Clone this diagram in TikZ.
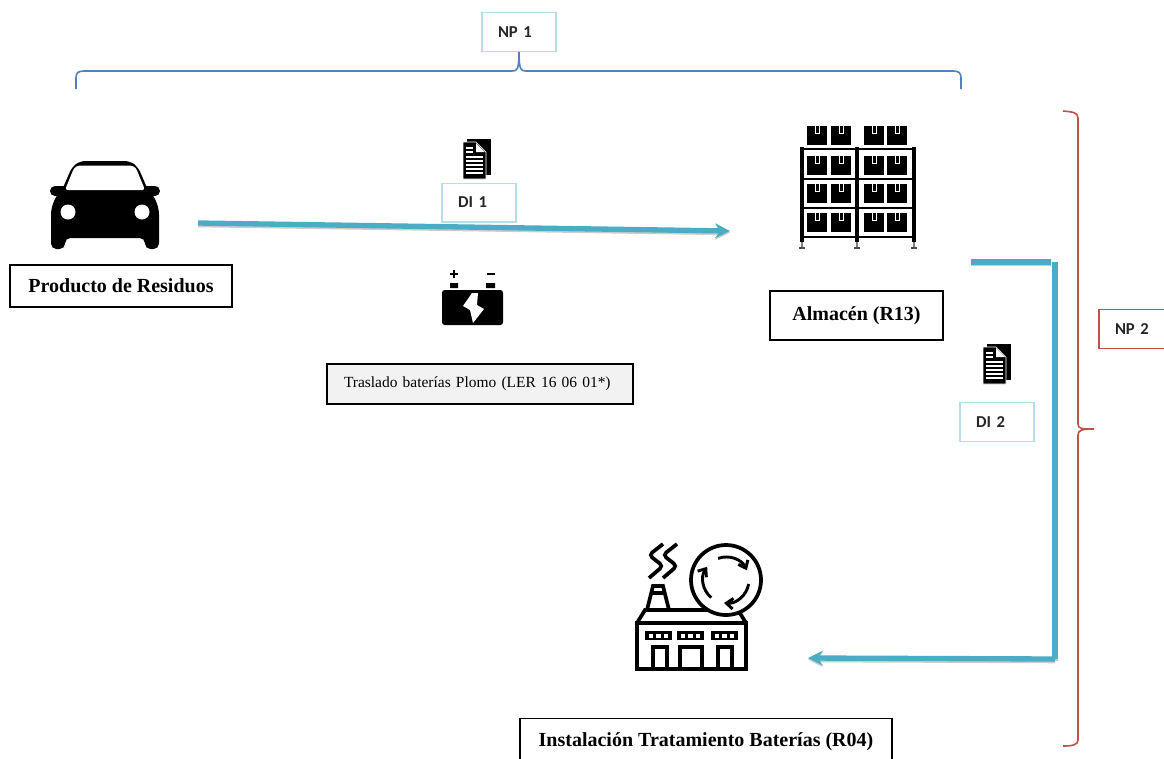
\documentclass[tikz,border=0pt]{standalone}
\usepackage{fontspec}
\setmainfont{Liberation Serif}
\newfontfamily\boxfont{Carlito}
\usetikzlibrary{arrows.meta,calc}
\definecolor{flowteal}{HTML}{4BACC6}
\definecolor{lightteal}{HTML}{B7DEE8}
\definecolor{braceblue}{HTML}{4F81BD}
\definecolor{bracered}{HTML}{C0504D}
\definecolor{boxgray}{HTML}{F2F2F2}
\tikzset{
  titlebox/.style={draw=black,line width=0.8pt,fill=white,text=black,font=\bfseries\fontsize{15}{18}\selectfont,inner sep=0pt},
  tealbox/.style={draw=lightteal,line width=1pt,fill=white,font=\boxfont\bfseries\fontsize{12.5}{14}\selectfont,text=black!85,text width=31.5pt,inner xsep=12pt,inner ysep=0pt,minimum height=29pt,align=left},
  redbox/.style={tealbox,draw=bracered,text width=33pt},
  flowline/.style={draw=flowteal,line width=4pt,preaction={draw=black!20,line width=4pt,transform canvas={yshift=-1.2pt}}},
  flowtip/.style={-{Stealth[length=11pt,width=11pt]}},
  doc/.pic={
    \fill[black] (-10,-20) rectangle (14,16);
    \fill[black,draw=white,line width=0.5pt] (-14,-17) -- (-1,-17) -- (9,-7) -- (9,20) -- (-14,20) -- cycle;
    \fill[white] (-1,-16) -- (8,-7) -- (-1,-7) -- cycle;
    \foreach\y/\xend in {-11/-4,-7/-4,-2/6,2/6,6/6,10/6,14/6}
      \draw[white,line width=1pt] (-11,\y) -- (\xend,\y);
  },
  car/.pic={
    \fill[black,rounded corners=4] (-54,44) -- (-54,4) -- (-49,-9) -- (-43,-15) -- (-33,-38) -- (-25,-44) -- (25,-44) -- (33,-38) -- (43,-15) -- (49,-9) -- (54,4) -- (54,44) -- (40,44) -- (40,33) -- (-40,33) -- (-40,44) -- cycle;
    \draw[black,line width=7.5pt,line cap=round] (-50,-14) -- (-42,-14) (42,-14) -- (50,-14);
    \fill[white,rounded corners=2] (-40,-15) -- (-31,-37) -- (-27,-39.5) -- (27,-39.5) -- (31,-37) -- (40,-15) -- cycle;
    \fill[white] (-37,7) circle (7.5) (37,7) circle (7.5);
  },
  shelf/.pic={
    \foreach\x in {-51,-27,6,29}
      \foreach\y in {-60,-30,-2,27} {
        \fill[black] (\x,\y) rectangle (\x+20,\y+19);
        \draw[white,line width=0.7pt] (\x+8,\y) -- (\x+8,\y+7) -- (\x+12,\y+7) -- (\x+12,\y);
      }
    \foreach\x in {-56,-1,56} {
      \draw[black,line width=2.4pt] (\x,-39) -- (\x,56);
      \draw[gray,line width=1.5pt] (\x,56) -- (\x,62);
      \draw[black!70,line width=1pt] (\x-3,62) -- (\x+3,62);
    }
    \foreach\y in {-37,-7,22,51}
      \draw[black,line width=2pt] (-56,\y) -- (56,\y);
  },
  battery/.pic={
    \fill[black,rounded corners=2] (-30,-10) rectangle (31,25);
    \fill[black] (-22,-17) rectangle (-14,-12) (14,-17) rectangle (23,-12);
    \draw[black,line width=1.7pt] (-22,-26) -- (-14,-26) (-18,-30) -- (-18,-22) (15,-26) -- (23,-26);
    \fill[white] (0,-7) -- (-9,6) -- (-2,10) -- (1,23) -- (12,9) -- (5,5) -- (6,-7) -- cycle;
  },
  factory/.pic={
    \draw[black,line width=2.8pt] (-53,13) rectangle (56,59);
    \draw[black,line width=2.8pt] (-53,13) -- (-45,0) -- (48,0) -- (56,13);
    \draw[black,line width=2.8pt] (-43,0) -- (-37,-24) -- (-27,-24) -- (-21,0) (-40,-17) -- (-24,-17);
    \foreach\x in {0,14}
      \draw[black,line width=2.8pt,rounded corners=3] (-27+\x,-66) -- (-41+\x,-55) -- (-27+\x,-44) -- (-41+\x,-32);
    \foreach\x in {-45,-13,21} {
      \fill[black] (\x,21) rectangle (\x+27,30);
      \foreach\k in {0,1,2}
        \fill[white] (\x+3.5+\k*7.5,23.5) rectangle (\x+8+\k*7.5,27.5);
    }
    \foreach\x/\w in {-37/14,-10/22,28/14}
      \draw[black,line width=2.8pt] (\x,59) -- (\x,37) -- (\x+\w,37) -- (\x+\w,59);
    \draw[black,line width=2.8pt,fill=white] (36,-30) circle (35);
    \foreach\a in {-110,10,130}
      \draw[black,line width=2.2pt,-{Straight Barb[length=5pt,width=8pt]}] ($(36,-30)+(\a:23)$) arc (\a:\a+85:23);
  }
}
\begin{document}
\begin{tikzpicture}[x=0.75pt,y=-0.75pt]
\path[use as bounding box,clip] (0,0) rectangle (1164,758);

\pic at (105,205) {car};
\pic at (858,186) {shelf};
\pic at (690,610) {factory};
\pic at (472,300) {battery};
\pic at (477,159) {doc};
\pic at (997,364) {doc};

\node[titlebox,minimum width=166.5pt,minimum height=31.5pt] (producto) at (121,286) {Producto de Residuos};
\node[titlebox,minimum width=129.75pt,minimum height=36.75pt] (almacen) at (856.5,315.5) {Almacén (R13)};
\node[titlebox,minimum width=279pt,minimum height=39pt,anchor=north] (instalacion) at (706,718) {\raisebox{7pt}{Instalación Tratamiento Baterías (R04)}};
\node[draw=black,line width=0.8pt,fill=boxgray,text width=204pt,inner xsep=12.75pt,inner ysep=0pt,minimum height=30pt,align=left,font=\fontsize{11.6}{14}\selectfont] (traslado) at (480,384) {Traslado baterías Plomo (LER 16 06 01*)};

\node[tealbox] (np1) at (519,32) {NP 1};
\node[tealbox] (di1) at (479,202.5) {DI 1};
\node[tealbox] (di2) at (997,422) {DI 2};
\node[redbox] (np2) at (1137,329) {NP 2};

\coordinate (flowa) at (198,223);
\coordinate (flowb) at (730,231);
\coordinate (flowc) at (971,262);
\coordinate (flowd) at (1051,262);
\coordinate (flowe) at (1055,262);
\coordinate (flowf) at (1055,659);
\coordinate (flowg) at (808,658);
\draw[flowline,flowtip] (flowa) -- (flowb);
\draw[flowline] (flowc) -- (flowd);
\draw[flowline] (flowe) -- (flowf);
\draw[flowline,flowtip] (flowf) -- (flowg);

\draw[braceblue,line width=1.2pt] (76,89) -- (76,78) .. controls (76,73) and (78,71) .. (84,71) -- (512,71) .. controls (517,71) and (519,70) .. (np1.south) .. controls (519,70) and (521,71) .. (526,71) -- (953,71) .. controls (959,71) and (961,73) .. (961,78) -- (961,89);
\coordinate (bracetip) at (1094,429);
\draw[bracered,line width=1.2pt] (1063,111) .. controls (1072,112) and (1078,112) .. (1078,118) -- (1078,424) .. controls (1078,429) and (1082,429) .. (bracetip) .. controls (1082,429) and (1078,430) .. (1078,435) -- (1078,740) .. controls (1078,745) and (1072,746) .. (1063,746);
\end{tikzpicture}
\end{document}
